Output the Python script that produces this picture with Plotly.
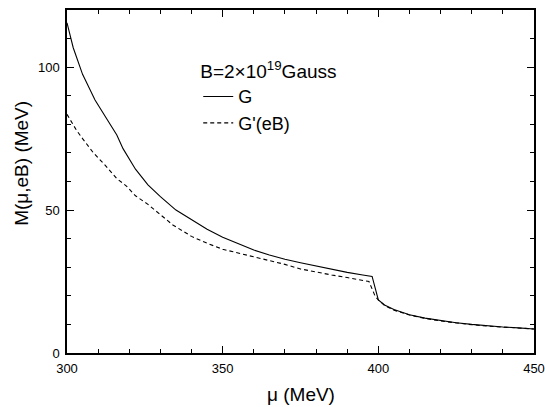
import plotly.graph_objects as go

# --- data ---
mu_G = [300, 302, 305, 309, 313, 316, 318, 322, 326, 330, 335, 340, 345, 350,
        355, 360, 365, 370, 375, 380, 385, 390, 395, 398, 400, 402, 405, 410,
        415, 420, 425, 430, 435, 440, 445, 450]
M_G = [115.5, 106.8, 97.5, 88.5, 81.5, 76.3, 71.5, 64.3, 58.8, 54.7, 50.0, 46.5,
       43.3, 40.5, 38.2, 36.0, 34.3, 32.8, 31.6, 30.4, 29.3, 28.2, 27.3, 26.8,
       18.6, 16.8, 15.2, 13.4, 12.2, 11.3, 10.6, 10.0, 9.5, 9.1, 8.8, 8.4]

mu_Gp = [300, 303, 305, 308.5, 312, 314, 316, 319, 322, 326, 330, 334, 340, 345,
         350, 355, 360, 365, 370, 375, 380, 385, 390, 395, 397, 399, 400, 402,
         405, 410, 415, 420, 425, 430, 435, 440, 445, 450]
M_Gp = [83.5, 78.0, 75.0, 70.0, 66.0, 63.5, 61.0, 58.5, 55.0, 52.0, 48.5, 44.8,
        40.8, 38.4, 36.3, 35.0, 33.8, 32.3, 31.0, 29.4, 28.3, 27.3, 26.4, 25.4,
        25.0, 19.8, 18.6, 16.6, 15.0, 13.3, 12.1, 11.2, 10.5, 9.9, 9.4, 9.0, 8.7, 8.4]

x_ticks = [300, 350, 400, 450]
y_ticks = [0, 50, 100]

FONT = "Arial, Liberation Sans, sans-serif"

fig = go.Figure()
fig.add_trace(go.Scatter(x=mu_G, y=M_G, mode="lines", name="G",
                         line=dict(color="black", width=1.1)))
fig.add_trace(go.Scatter(x=mu_Gp, y=M_Gp, mode="lines", name="G'(eB)",
                         line=dict(color="black", width=1.1, dash="4px,3px")))

axis_common = dict(
    showgrid=False, zeroline=False, showline=True, linecolor="black",
    linewidth=1.5, mirror="allticks", ticks="inside", ticklen=7,
    tickwidth=1, tickcolor="black", ticklabelstandoff=3, automargin=False,
    tickfont=dict(family=FONT, size=13, color="black"),
)

fig.update_xaxes(range=[300, 450], tickvals=x_ticks,
                 ticktext=[str(v) for v in x_ticks],
                 minor=dict(dtick=10, ticks="inside", ticklen=4,
                            tickcolor="black", tickwidth=1),
                 **axis_common)
fig.update_yaxes(range=[0, 120], tickvals=y_ticks,
                 ticktext=[str(v) for v in y_ticks],
                 minor=dict(dtick=10, ticks="inside", ticklen=4,
                            tickcolor="black", tickwidth=1),
                 **axis_common)

fig.update_layout(
    width=545, height=407,
    margin=dict(l=67, r=11, t=10, b=54, autoexpand=False),
    paper_bgcolor="white", plot_bgcolor="white",
    font=dict(family=FONT, color="black"),
    showlegend=True,
    legend=dict(
        x=0.281, y=0.873, xanchor="left", yanchor="top",
        bgcolor="rgba(0,0,0,0)", borderwidth=0,
        font=dict(family=FONT, size=18, color="black"),
        title=dict(text="B=2×10<sup>19</sup>Gauss",
                   font=dict(family=FONT, size=19, color="black")),
        tracegroupgap=0,
    ),
    annotations=[
        dict(text="M(μ,eB) (MeV)", textangle=-90, xref="paper", yref="paper",
             x=-0.0974, y=0.553, xanchor="center", yanchor="middle",
             showarrow=False, font=dict(family=FONT, size=19, color="black")),
        dict(text="μ (MeV)", xref="paper", yref="paper",
             x=0.5, y=-0.1215, xanchor="center", yanchor="middle",
             showarrow=False, font=dict(family=FONT, size=19, color="black")),
    ],
)

fig.write_html("out.html")
